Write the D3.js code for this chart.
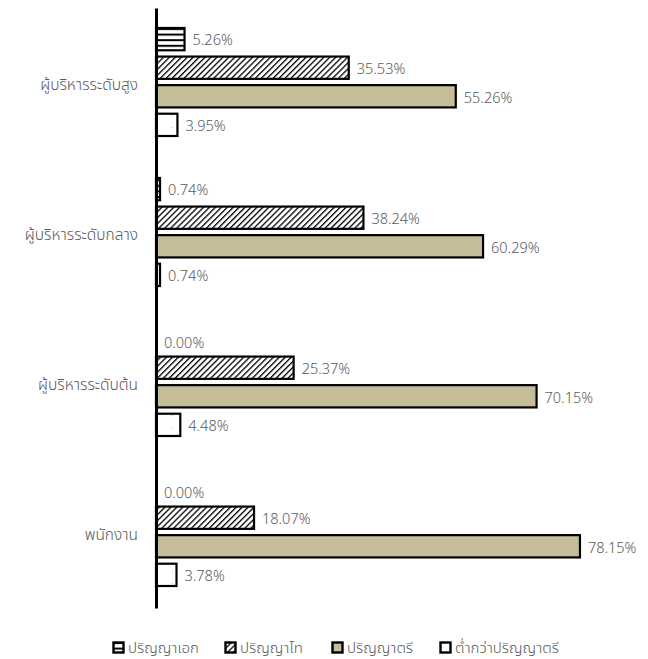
<!DOCTYPE html>
<html>
<head>
<meta charset="utf-8">
<script src="https://cdn.jsdelivr.net/npm/d3@7"></script>
<style>
  body { margin: 0; background: #fff; }
  text { font-family: "Noto Sans Thai", "Leelawadee UI", Tahoma, "DejaVu Sans", sans-serif; fill: #595959; font-weight: 300; }
</style>
</head>
<body>
<div id="chart"></div>
<script>
// groups, top to bottom
var categories = ["ผู้บริหารระดับสูง", "ผู้บริหารระดับกลาง", "ผู้บริหารระดับต้น", "พนักงาน"];
var series = ["ปริญญาเอก", "ปริญญาโท", "ปริญญาตรี", "ต่ำกว่าปริญญาตรี"];

// percentage per series, one value per category
var phd = [5.26, 0.74, 0.00, 0.00];
var master = [35.53, 38.24, 25.37, 18.07];
var bachelor = [55.26, 60.29, 70.15, 78.15];
var belowBachelor = [3.95, 0.74, 4.48, 3.78];

var values = [phd, master, bachelor, belowBachelor];

var W = 648, H = 659;
var margin = {top: 8, left: 156, bottom: 51};

var svg = d3.select("#chart").append("svg")
    .attr("width", W)
    .attr("height", H);

// patterns for the bar fills
var defs = svg.append("defs");

var pH = defs.append("pattern")
    .attr("id", "p-horiz")
    .attr("patternUnits", "userSpaceOnUse")
    .attr("width", 6).attr("height", 5.6);
pH.append("rect").attr("width", 6).attr("height", 5.6).attr("fill", "#fff");
pH.append("rect").attr("y", 0).attr("width", 6).attr("height", 2).attr("fill", "#000");

var pD = defs.append("pattern")
    .attr("id", "p-diag")
    .attr("patternUnits", "userSpaceOnUse")
    .attr("width", 4.2).attr("height", 4.2)
    .attr("patternTransform", "rotate(45)");
pD.append("rect").attr("width", 4.2).attr("height", 4.2).attr("fill", "#fff");
pD.append("rect").attr("width", 1.3).attr("height", 4.2).attr("fill", "#000");

var pDot = defs.append("pattern")
    .attr("id", "p-dot")
    .attr("patternUnits", "userSpaceOnUse")
    .attr("width", 18).attr("height", 12);
pDot.append("rect").attr("width", 18).attr("height", 12).attr("fill", "#fff");
pDot.append("rect").attr("x", 10).attr("y", 7).attr("width", 1).attr("height", 1).attr("fill", "#c4bd97");

var fills = ["url(#p-horiz)", "url(#p-diag)", "#c4bd97", "url(#p-dot)"];

var x = d3.scaleLinear()
    .domain([0, 80])
    .range([margin.left, margin.left + 434]);

var y0 = d3.scaleBand()
    .domain(categories)
    .range([margin.top, H - margin.bottom]);

var y1 = d3.scaleBand()
    .domain(series)
    .range([20, 128])
    .paddingInner(0.22);

var rows = [];
categories.forEach(function (c, ci) {
    series.forEach(function (s, si) {
        rows.push({cat: c, ser: s, si: si, value: values[si][ci]});
    });
});

var bars = svg.selectAll(".bar")
    .data(rows)
    .enter()
    .append("g")
    .attr("class", "bar");

bars.append("rect")
    .attr("x", x(0))
    .attr("y", function (d) { return y0(d.cat) + y1(d.ser); })
    .attr("height", y1.bandwidth())
    .attr("width", function (d) { return x(d.value) - x(0); })
    .attr("fill", function (d) { return fills[d.si]; })
    .attr("stroke", function (d) { return d.value > 0 ? "#000" : "none"; })
    .attr("stroke-width", 2.2);

// labels right of each bar; zero-value labels sit a little lower
bars.append("text")
    .attr("x", function (d) { return x(d.value) + 8; })
    .attr("y", function (d) { return y0(d.cat) + y1(d.ser) + y1.bandwidth() / 2 + (d.value === 0 ? 4 : 1); })
    .attr("dy", "0.36em")
    .style("font-size", "14.5px")
    .text(function (d) { return d.value.toFixed(2) + "%"; });

// category axis
var yAxis = d3.axisLeft(y0).tickSize(0).tickPadding(18);
var gy = svg.append("g")
    .attr("transform", "translate(" + x(0) + ",0)")
    .call(yAxis);
gy.select(".domain").attr("stroke", "#000").attr("stroke-width", 3);
gy.selectAll(".tick text")
    .style("font-size", "15.5px")
    .attr("dy", "0.42em")
    .attr("fill", "#595959");

// legend
var legendX = [113, 225, 332, 440];
var legend = svg.selectAll(".legend")
    .data(series)
    .enter()
    .append("g")
    .attr("class", "legend")
    .attr("transform", function (d, i) { return "translate(" + legendX[i] + ",642)"; });

legend.append("rect")
    .attr("x", 0.5).attr("y", 0.5)
    .attr("width", 10).attr("height", 10)
    .attr("fill", function (d, i) { return fills[i]; })
    .attr("stroke", "#000")
    .attr("stroke-width", 2.4);

legend.append("text")
    .attr("x", 15)
    .attr("y", 6)
    .attr("dy", "0.36em")
    .style("font-size", "15px")
    .text(function (d) { return d; });
</script>
</body>
</html>
